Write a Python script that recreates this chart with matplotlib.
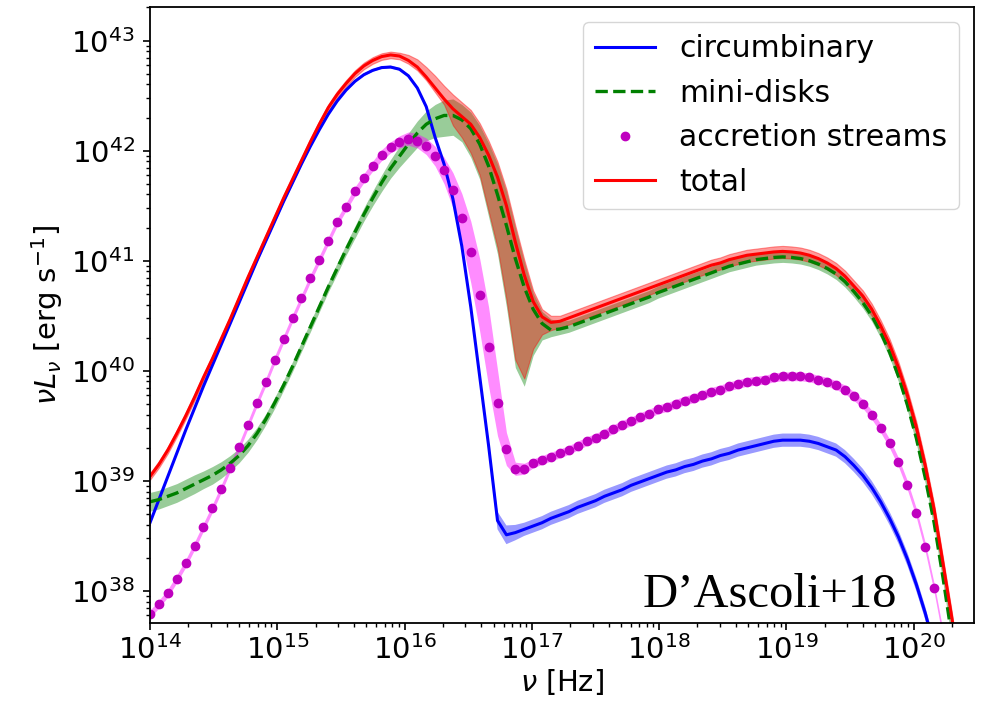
import numpy as np
import matplotlib.pyplot as plt

# frequency grid, log10(nu / Hz): 93 samples, 0.07 dex apart, from 1e14 Hz
nu = np.logspace(14.0, 20.44, 93)

# log10(nu L_nu / erg s^-1)
circumbinary = [
    38.62, 38.83, 39.04, 39.25, 39.46, 39.66, 39.86, 40.05, 40.24, 40.43,
    40.62, 40.81, 41.00, 41.18, 41.36, 41.54, 41.71, 41.88, 42.04, 42.19,
    42.33, 42.45, 42.55, 42.63, 42.69, 42.73, 42.755, 42.76, 42.74, 42.68,
    42.57, 42.40, 42.12, 41.88, 41.56, 41.13, 40.58, 39.95, 39.32, 38.64,
    38.51, 38.53, 38.56, 38.59, 38.62, 38.66, 38.69, 38.72, 38.76, 38.79,
    38.82, 38.86, 38.89, 38.92, 38.96, 38.99, 39.02, 39.05, 39.08, 39.10,
    39.13, 39.15, 39.18, 39.20, 39.23, 39.25, 39.28, 39.30, 39.32, 39.34,
    39.36, 39.37, 39.37, 39.37, 39.36, 39.34, 39.31, 39.28, 39.22, 39.14,
    39.05, 38.94, 38.81, 38.66, 38.49, 38.29, 38.06, 37.80, 37.50, 37.15,
    36.75, 36.30, 35.80,
]
minidisks = [
    38.81, 38.83, 38.86, 38.89, 38.93, 38.97, 39.01, 39.05, 39.10, 39.16,
    39.23, 39.32, 39.43, 39.56, 39.71, 39.87, 40.04, 40.22, 40.40, 40.58,
    40.76, 40.93, 41.10, 41.26, 41.42, 41.57, 41.71, 41.84, 41.95, 42.06,
    42.16, 42.24, 42.29, 42.32, 42.32, 42.28, 42.20, 42.06, 41.86, 41.60,
    41.32, 41.02, 40.76, 40.56, 40.43, 40.37, 40.38, 40.40, 40.43, 40.46,
    40.49, 40.52, 40.55, 40.58, 40.61, 40.64, 40.67, 40.71, 40.74, 40.77,
    40.80, 40.83, 40.86, 40.89, 40.92, 40.95, 40.97, 40.99, 41.01, 41.02,
    41.03, 41.035, 41.03, 41.02, 41.00, 40.97, 40.93, 40.88, 40.81, 40.72,
    40.62, 40.50, 40.35, 40.17, 39.95, 39.69, 39.39, 39.03, 38.62, 38.12,
    37.58, 37.00, 36.40,
]
streams = [
    37.79, 37.88, 37.98, 38.11, 38.25, 38.41, 38.58, 38.75, 38.93, 39.12,
    39.31, 39.51, 39.71, 39.90, 40.10, 40.29, 40.48, 40.66, 40.84, 41.01,
    41.18, 41.35, 41.49, 41.63, 41.75, 41.86, 41.96, 42.03, 42.08, 42.11,
    42.09, 42.04, 41.95, 41.82, 41.64, 41.39, 41.08, 40.69, 40.22, 39.71,
    39.29, 39.11, 39.11, 39.16, 39.19, 39.22, 39.25, 39.28, 39.32, 39.36,
    39.39, 39.43, 39.47, 39.51, 39.54, 39.58, 39.61, 39.65, 39.67, 39.70,
    39.73, 39.75, 39.78, 39.81, 39.83, 39.86, 39.88, 39.90, 39.91, 39.92,
    39.94, 39.95, 39.95, 39.95, 39.94, 39.92, 39.90, 39.87, 39.83, 39.77,
    39.70, 39.60, 39.48, 39.34, 39.17, 38.96, 38.71, 38.40, 38.03, 37.60,
    37.10, 36.55, 35.95,
]
total = [
    39.04, 39.15, 39.28, 39.43, 39.59, 39.76, 39.94, 40.11, 40.29, 40.47,
    40.66, 40.85, 41.03, 41.21, 41.39, 41.57, 41.74, 41.91, 42.08, 42.24,
    42.39, 42.51, 42.61, 42.70, 42.77, 42.82, 42.855, 42.87, 42.86, 42.82,
    42.76, 42.67, 42.57, 42.47, 42.38, 42.31, 42.24, 42.12, 41.96, 41.76,
    41.50, 41.17, 40.87, 40.63, 40.49, 40.44, 40.45, 40.48, 40.51, 40.54,
    40.57, 40.60, 40.63, 40.66, 40.69, 40.72, 40.75, 40.78, 40.81, 40.84,
    40.87, 40.90, 40.93, 40.96, 40.98, 41.01, 41.03, 41.05, 41.06, 41.07,
    41.08, 41.085, 41.08, 41.07, 41.05, 41.02, 40.98, 40.93, 40.86, 40.77,
    40.68, 40.56, 40.41, 40.24, 40.03, 39.78, 39.49, 39.14, 38.74, 38.25,
    37.75, 37.20, 36.60,
]

# uncertainty bands, dex below / above each curve
circ_err = [0.012] * 35 + [0.02, 0.03, 0.045, 0.06, 0.08, 0.085, 0.07] + [0.06] * 51
streams_err = ([0.035] * 23
               + [0.04, 0.04, 0.045, 0.05, 0.05, 0.055, 0.06, 0.065, 0.075, 0.09]
               + [0.12, 0.16, 0.22, 0.28, 0.33, 0.36, 0.30, 0.15, 0.06, 0.05]
               + [0.04] * 50)
mini_hi = ([0.085] * 6 + [0.08, 0.08, 0.075, 0.07]
           + [0.065, 0.06, 0.055, 0.05, 0.05] + [0.045] * 6
           + [0.05, 0.05, 0.055, 0.06, 0.065, 0.07, 0.08, 0.09, 0.10]
           + [0.11, 0.12, 0.13, 0.14, 0.15, 0.14, 0.15, 0.17, 0.21, 0.28]
           + [0.31, 0.28, 0.23, 0.15, 0.11, 0.10, 0.07, 0.06, 0.06, 0.06]
           + [0.06] * 43)
mini_lo = ([0.085] * 6 + [0.08, 0.08, 0.075, 0.07]
           + [0.065, 0.06, 0.055, 0.05, 0.05] + [0.045] * 6
           + [0.05, 0.05, 0.055, 0.06, 0.07, 0.08, 0.09, 0.10, 0.12]
           + [0.13, 0.15, 0.17, 0.19, 0.18, 0.20, 0.26, 0.32, 0.46, 0.54]
           + [0.74, 0.99, 0.90, 0.42, 0.15, 0.06, 0.05, 0.05, 0.05, 0.05]
           + [0.05] * 43)
total_hi = ([0.03] * 29
            + [0.05, 0.07, 0.09, 0.11, 0.12, 0.13, 0.13, 0.13, 0.13, 0.13]
            + [0.14, 0.15, 0.15, 0.14, 0.10, 0.07, 0.06]
            + [0.05] * 47)
total_lo = ([0.03] * 32
            + [0.04, 0.05, 0.15, 0.19, 0.26, 0.34, 0.51, 0.64, 0.85, 1.07]
            + [0.94, 0.43, 0.16, 0.07, 0.06]
            + [0.06] * 46)

labels = ['circumbinary', 'mini-disks', 'accretion streams', 'total']

circumbinary = np.array(circumbinary)
minidisks = np.array(minidisks)
streams = np.array(streams)
total = np.array(total)

fig = plt.figure(figsize=(9.83, 7.06), dpi=100)
ax = fig.add_axes([0.1526, 0.1176, 0.8382, 0.8721])

# bands
ax.fill_between(nu, 10**(minidisks - np.array(mini_lo)), 10**(minidisks + np.array(mini_hi)),
                color='green', alpha=0.4, lw=0)
ax.fill_between(nu, 10**(total - np.array(total_lo)), 10**(total + np.array(total_hi)),
                color='red', alpha=0.4, lw=0.8)
ax.fill_between(nu, 10**(circumbinary - np.array(circ_err)), 10**(circumbinary + np.array(circ_err)),
                color='blue', alpha=0.4, lw=0)
ax.fill_between(nu, 10**(streams - np.array(streams_err)), 10**(streams + np.array(streams_err)),
                color='magenta', alpha=0.45, lw=0)

# curves
ax.plot(nu, 10**circumbinary, color='blue', lw=2.2, label=labels[0])
ax.plot(nu, 10**minidisks, color='green', ls='--', lw=2.4, label=labels[1])
ax.plot(nu, 10**streams, 'o', color='m', ms=6, label=labels[2])
ax.plot(nu, 10**total, color='red', lw=2.2, label=labels[3])

ax.set_xscale('log')
ax.set_yscale('log')
ax.set_xlim(1e14, 10**20.473)
ax.set_ylim(10**37.709, 10**43.303)

ax.tick_params(which='major', labelsize=21, length=5, width=1.2)
ax.tick_params(axis='y', which='major', pad=6)
ax.tick_params(which='minor', length=3, width=1.0)
for s in ax.spines.values():
    s.set_linewidth(1.3)

ax.set_xlabel(r'$\nu$ [Hz]', fontsize=21, labelpad=2)
ax.set_ylabel(r'$\nu L_\nu$ [erg s$^{-1}$]', fontsize=21, labelpad=4)

ax.legend(loc='upper right', fontsize=21.5, labelspacing=0.52)
ax.text(0.9066, 0.026, 'D\u2019Ascoli+18', transform=ax.transAxes,
        ha='right', va='baseline', fontsize=35, family='Liberation Serif')

fig.savefig('out.png', dpi=100)
